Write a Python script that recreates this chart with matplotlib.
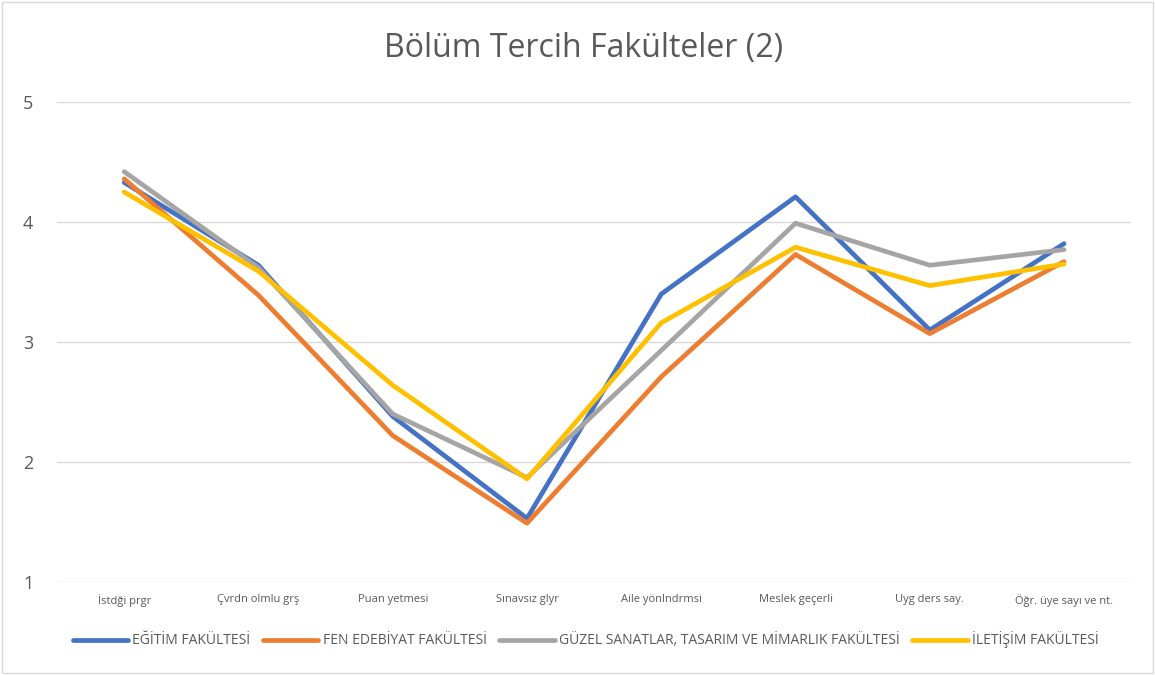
import matplotlib
matplotlib.use('Agg')
import matplotlib.pyplot as plt
from matplotlib.patches import Rectangle

plt.rcParams['font.family'] = ['Open Sans', 'DejaVu Sans']

categories = ['İstdği prgr', 'Çvrdn olmlu grş', 'Puan yetmesi', 'Sınavsız glyr',
              'Aile yönlndrmsi', 'Meslek geçerli', 'Uyg ders say.', 'Öğr. üye sayı ve nt.']
egitim = [4.33, 3.64, 2.38, 1.53, 3.40, 4.21, 3.10, 3.82]
fen_edebiyat = [4.36, 3.39, 2.22, 1.49, 2.71, 3.73, 3.07, 3.67]
guzel_sanatlar = [4.42, 3.62, 2.40, 1.87, 2.93, 3.99, 3.64, 3.77]
iletisim = [4.25, 3.59, 2.64, 1.86, 3.16, 3.79, 3.47, 3.65]

series = [
    ('EĞİTİM FAKÜLTESİ', egitim, '#4472C4'),
    ('FEN EDEBİYAT FAKÜLTESİ', fen_edebiyat, '#ED7D31'),
    ('GÜZEL SANATLAR, TASARIM VE MİMARLIK FAKÜLTESİ', guzel_sanatlar, '#A5A5A5'),
    ('İLETİŞİM FAKÜLTESİ', iletisim, '#FFC000'),
]

fig = plt.figure(figsize=(11.55, 6.75), dpi=100)
fig.patches.append(Rectangle((0.002, 0.003), 0.996, 0.994, transform=fig.transFigure,
                             fill=False, edgecolor='#D9D9D9', linewidth=1))
ax = fig.add_axes([0.0494, 0.1378, 0.930, 0.711])

x = range(len(categories))
for name, vals, col in series:
    ax.plot(x, vals, color=col, linewidth=3.4, label=name, zorder=3, solid_capstyle='round')

ax.set_ylim(1, 5)
ax.set_xlim(-0.5, len(categories) - 0.5)
ax.set_yticks([1, 2, 3, 4, 5])
ax.set_xticks(list(x))
ax.set_xticklabels(categories, fontsize=8, color='#595959')
ax.tick_params(axis='y', labelsize=13, labelcolor='#595959', length=0, pad=17)
ax.tick_params(axis='x', length=0, pad=9)
ax.grid(axis='y', color='#D9D9D9', linewidth=1, zorder=1)
for s in ax.spines.values():
    s.set_visible(False)

fig.text(0.505, 0.928, 'Bölüm Tercih Fakülteler (2)', fontsize=23, color='#595959',
         ha='center', va='center')
fig.legend(loc='center', bbox_to_anchor=(0.507, 0.052), ncol=4, frameon=False,
           fontsize=10, labelcolor='#595959', handlelength=4.0, handletextpad=0.3,
           columnspacing=0.9)

fig.savefig('out.png', dpi=100)
